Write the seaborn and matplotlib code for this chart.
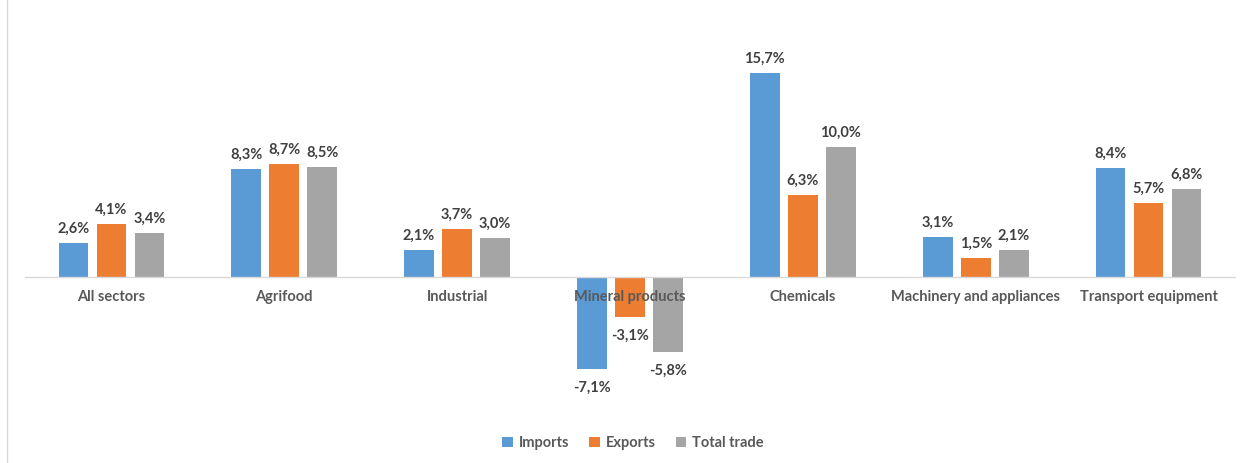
import matplotlib
matplotlib.use("Agg")
import matplotlib.pyplot as plt
import seaborn as sns
import pandas as pd
from matplotlib.lines import Line2D

# Data
sectors = ["All sectors", "Agrifood", "Industrial", "Mineral products",
           "Chemicals", "Machinery and appliances", "Transport equipment"]
imports = [2.6, 8.3, 2.1, -7.1, 15.7, 3.1, 8.4]
exports = [4.1, 8.7, 3.7, -3.1, 6.3, 1.5, 5.7]
total_trade = [3.4, 8.5, 3.0, -5.8, 10.0, 2.1, 6.8]
series_names = ["Imports", "Exports", "Total trade"]
colors = ["#5B9BD5", "#ED7D31", "#A5A5A5"]

df = pd.DataFrame({
    "Sector": sectors * 3,
    "Series": [series_names[0]] * 7 + [series_names[1]] * 7 + [series_names[2]] * 7,
    "Value": imports + exports + total_trade,
})

sns.set_style("white")
plt.rcParams["font.family"] = ["Lato", "DejaVu Sans"]

fig = plt.figure(figsize=(12.49, 4.63), dpi=100)
ax = fig.add_axes([25 / 1249, 63 / 463, 1210 / 1249, 380 / 463])

sns.barplot(data=df, x="Sector", y="Value", hue="Series", order=sectors,
            hue_order=series_names, palette=colors, width=0.66, gap=0.22,
            linewidth=0, saturation=1, ax=ax)

ax.set_ylim(-9.46, 19.77)
ax.set_xlim(-0.5, 6.5)

for cont in ax.containers:
    vals = cont.datavalues
    pos_labels = [f"{v:.1f}%".replace(".", ",") if v >= 0 else "" for v in vals]
    neg_labels = [f"{v:.1f}%".replace(".", ",") if v < 0 else "" for v in vals]
    ax.bar_label(cont, labels=pos_labels, padding=5, fontsize=10.5,
                 fontweight="bold", color="#404040")
    ax.bar_label(cont, labels=neg_labels, padding=8, fontsize=10.5,
                 fontweight="bold", color="#404040")

for s in ["top", "right", "left"]:
    ax.spines[s].set_visible(False)
ax.spines["bottom"].set_position(("data", 0))
ax.spines["bottom"].set_color("#D9D9D9")
ax.spines["bottom"].set_linewidth(1)
ax.set_yticks([])
ax.set_xlabel("")
ax.set_ylabel("")
ax.tick_params(axis="x", length=0, pad=9, labelsize=10.5, labelcolor="#595959")
for t in ax.get_xticklabels():
    t.set_fontweight("bold")
# category labels are drawn over the bars (see "Mineral products")
ax.xaxis.set_zorder(5)

ax.legend(loc="center", bbox_to_anchor=(633 / 1249, 20 / 463),
          bbox_transform=fig.transFigure, ncol=3, frameon=False,
          handlelength=0.7, handleheight=0.7, handletextpad=0.4,
          columnspacing=1.4, prop={"size": 10.5, "weight": "bold"},
          labelcolor="#595959")

# thin frame line on the left edge, as in the reference
fig.add_artist(Line2D([7 / 1249, 7 / 1249], [0, 1], transform=fig.transFigure,
                      color="#D9D9D9", lw=1))

fig.savefig("out.png", dpi=100)
